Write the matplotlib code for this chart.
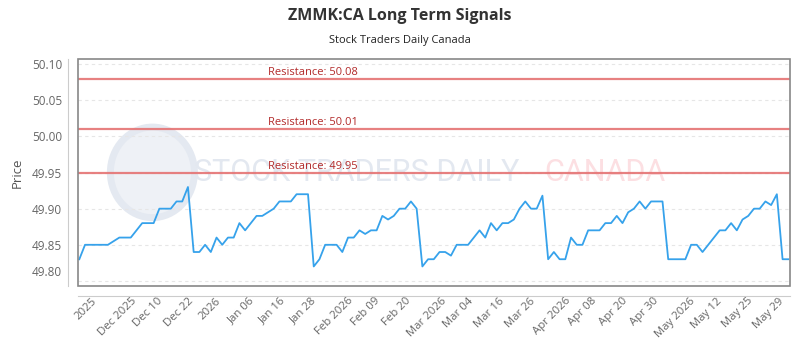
import matplotlib
matplotlib.use("Agg")
import matplotlib.pyplot as plt
import numpy as np
from matplotlib.patches import Ellipse, Rectangle
from matplotlib.transforms import ScaledTranslation

plt.rcParams['font.family'] = ['Open Sans', 'DejaVu Sans']

title = "ZMMK:CA Long Term Signals"
subtitle = "Stock Traders Daily Canada"

prices = [
    49.83, 49.85, 49.85, 49.85, 49.85, 49.85, 49.855, 49.86, 49.86, 49.86,
    49.87, 49.88, 49.88, 49.88, 49.90, 49.90, 49.90, 49.91, 49.91, 49.93,
    49.84, 49.84, 49.85, 49.84, 49.86, 49.85, 49.86, 49.86, 49.88, 49.87,
    49.88, 49.89, 49.89, 49.895, 49.90, 49.91, 49.91, 49.91, 49.92, 49.92,
    49.92, 49.82, 49.83, 49.85, 49.85, 49.85, 49.84, 49.86, 49.86, 49.87,
    49.865, 49.87, 49.87, 49.89, 49.885, 49.89, 49.90, 49.90, 49.91, 49.90,
    49.82, 49.83, 49.83, 49.84, 49.84, 49.835, 49.85, 49.85, 49.85, 49.86,
    49.87, 49.86, 49.88, 49.87, 49.88, 49.88, 49.885, 49.90, 49.91, 49.90,
    49.90, 49.918, 49.83, 49.84, 49.83, 49.83, 49.86, 49.85, 49.85, 49.87,
    49.87, 49.87, 49.88, 49.88, 49.89, 49.88, 49.895, 49.90, 49.91, 49.90,
    49.91, 49.91, 49.91, 49.83, 49.83, 49.83, 49.83, 49.85, 49.85, 49.84,
    49.85, 49.86, 49.87, 49.87, 49.88, 49.87, 49.885, 49.89, 49.90, 49.90,
    49.91, 49.905, 49.92, 49.83, 49.83,
]

tick_labels = ["2025", "Dec 2025", "Dec 10", "Dec 22", "2026", "Jan 06", "Jan 16",
               "Jan 28", "Feb 2026", "Feb 09", "Feb 20", "Mar 2026", "Mar 04",
               "Mar 16", "Mar 26", "Apr 2026", "Apr 08", "Apr 20", "Apr 30",
               "May 2026", "May 12", "May 25", "May 29"]

resistance = [50.08, 50.01, 49.95]
y_ticks = [49.80, 49.85, 49.90, 49.95, 50.00, 50.05, 50.10]

fig = plt.figure(figsize=(8, 3.5), dpi=100)
ax = fig.add_axes([0.097, 0.184, 0.8905, 0.647])

x = np.arange(len(prices))
ax.set_xlim(-0.3, len(prices) - 0.7)
ax.set_ylim(49.7935, 50.107)

# watermark (logo + text)
ax.add_patch(Ellipse((0.105, 0.5), 0.118, 0.40, transform=ax.transAxes, facecolor='#eef1f6',
                     edgecolor='#e4e9f1', lw=5, zorder=0))
ax.text(0.163, 0.5, "STOCK TRADERS DAILY", transform=ax.transAxes, fontsize=22,
        family=['Roboto', 'DejaVu Sans'], color='#e3e8f0',
        va='center', ha='left', zorder=0)
ax.text(0.655, 0.5, "CANADA", transform=ax.transAxes, fontsize=22,
        family=['Roboto', 'DejaVu Sans'], color='#fcdfe2',
        va='center', ha='left', zorder=0)

for r in resistance:
    ax.axhline(r, color='#e57373', lw=1.6, alpha=0.9, zorder=2)
    ax.text(0.33, r + 0.0012, f"Resistance: {r:.2f}", transform=ax.get_yaxis_transform(),
            ha='center', va='bottom', fontsize=8, color='#b22a2a', zorder=3)

ax.plot(x, prices, color='#36A2EB', lw=1.3, zorder=4)

ax.set_yticks(y_ticks)
ax.set_yticklabels([""] + [f"{v:.2f}" for v in y_ticks[1:]])
ax.grid(axis='y', color='#e6e6e6', ls=(0, (3, 3)), lw=0.8)
ax.set_axisbelow(True)
# bottom y label sits a little above its gridline, as in the reference
ax.text(0, y_ticks[0], f"{y_ticks[0]:.2f}", ha='right', va='center', fontsize=8.5, color='#666666',
        transform=ax.get_yaxis_transform() + ScaledTranslation(-0.156, 0.085, fig.dpi_scale_trans))

tick_pos = np.linspace(1.2, 120.6, len(tick_labels))
ax.set_xticks(tick_pos)
ax.set_xticklabels(tick_labels)

ax.tick_params(axis='both', colors='#666666', labelsize=8.5, length=0)
ax.tick_params(axis='y', pad=4)
ax.tick_params(axis='x', pad=0, labelrotation=45, labelsize=8.2)
for lbl in ax.get_xticklabels():
    lbl.set_ha('right')
    lbl.set_rotation_mode('anchor')
ax.set_ylabel("Price", fontsize=9.5, color='#555555', labelpad=6)

for side in ['left', 'bottom']:
    ax.spines[side].set_position(('outward', 7.2))
    ax.spines[side].set_color('#cccccc')
for side in ['top', 'right']:
    ax.spines[side].set_visible(False)
ax.add_patch(Rectangle((0, 0), 1, 1, transform=ax.transAxes, fill=False,
                       edgecolor='#888888', lw=1.2, zorder=5, clip_on=False))

fig.text(0.5, 0.955, title, ha='center', va='center', fontsize=11.5, fontweight='bold', color='#333333')
fig.text(0.5, 0.885, subtitle, ha='center', va='center', fontsize=8, color='#222222')

fig.savefig("out.png", dpi=100)
